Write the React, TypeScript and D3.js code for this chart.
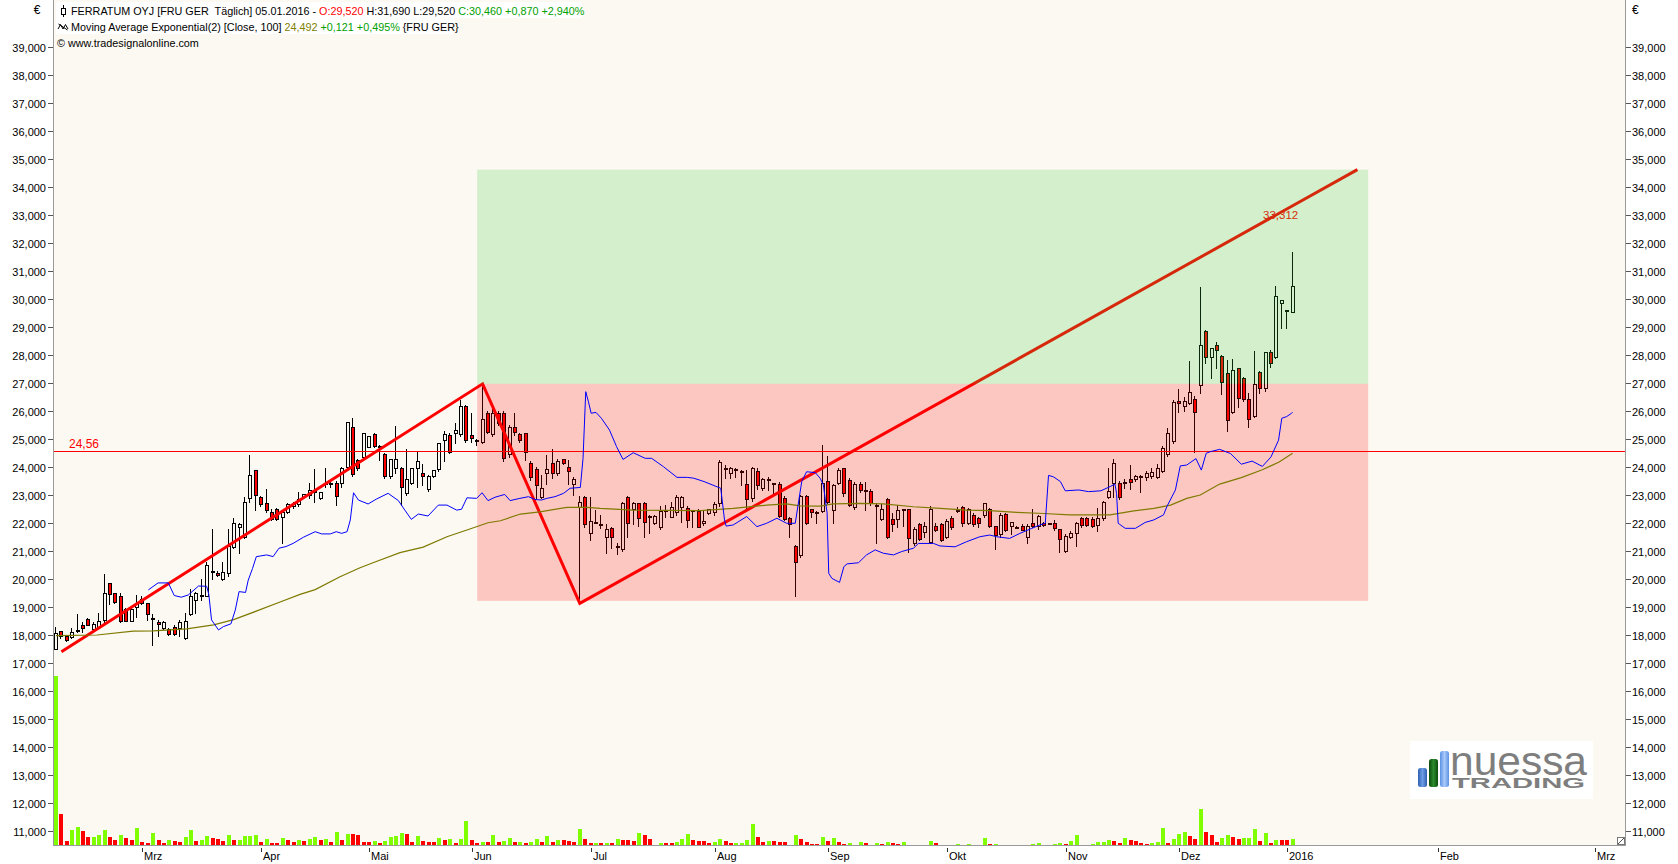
import React from 'react';
import * as d3 from 'd3';

// ---------- DATA ----------
// OHLC per trading day; index 0 = first session (Feb 2015), index 229 = 05.01.2016
const candles: [number, number, number, number][] = [
  [17.49, 18.30, 17.49, 18.08], [18.14, 18.16, 17.90, 17.96], [17.96, 18.00, 17.79, 17.82], [17.92, 18.24, 17.90, 18.11],
  [18.13, 18.75, 18.12, 18.17], [18.36, 18.48, 18.12, 18.26], [18.57, 18.60, 18.36, 18.36], [18.22, 18.45, 18.20, 18.38],
  [18.30, 18.80, 18.28, 18.50], [18.54, 20.18, 18.48, 19.49], [19.85, 19.85, 19.10, 19.45], [19.49, 19.50, 19.15, 19.17],
  [19.39, 19.49, 18.45, 18.50], [18.92, 18.95, 18.50, 18.50], [18.50, 18.95, 18.50, 18.92], [19.01, 19.43, 18.66, 19.15],
  [19.27, 19.40, 19.10, 19.13], [19.13, 19.15, 18.53, 18.74], [18.62, 18.74, 17.64, 18.58], [18.45, 18.53, 17.98, 18.38],
  [18.24, 18.50, 18.22, 18.48], [18.20, 18.24, 18.00, 18.03], [18.27, 18.36, 18.00, 18.03], [18.24, 18.54, 17.95, 18.46],
  [17.88, 18.78, 17.86, 18.50], [18.74, 19.63, 18.70, 19.39], [19.25, 19.52, 18.78, 19.49], [19.40, 19.99, 19.25, 19.42],
  [19.39, 20.60, 19.39, 20.50], [20.24, 21.80, 19.99, 20.28], [20.23, 20.30, 20.10, 20.15], [19.99, 20.60, 19.95, 20.24],
  [20.23, 21.80, 20.10, 21.19], [21.15, 22.19, 21.10, 21.99], [21.87, 22.00, 20.94, 21.97], [21.49, 22.94, 21.45, 22.74],
  [22.88, 24.42, 22.75, 23.70], [23.89, 23.90, 22.46, 23.00], [22.92, 22.95, 22.60, 22.68], [22.70, 23.20, 22.40, 22.46],
  [22.40, 22.50, 22.10, 22.13], [22.50, 22.55, 22.10, 22.13], [22.23, 22.45, 21.27, 22.40], [22.40, 22.70, 22.35, 22.68],
  [22.60, 22.75, 22.55, 22.68], [22.68, 23.12, 22.60, 22.85], [22.94, 23.05, 22.90, 23.02], [23.00, 23.42, 22.90, 23.18],
  [23.10, 23.93, 22.74, 23.14], [22.88, 23.12, 22.85, 23.12], [23.38, 23.98, 23.30, 23.42], [23.40, 23.50, 23.30, 23.42],
  [23.44, 23.50, 22.64, 22.96], [23.44, 24.00, 23.30, 23.95], [23.99, 25.62, 23.95, 25.62], [25.44, 25.74, 23.69, 23.75],
  [24.25, 24.30, 23.90, 23.95], [24.37, 25.23, 24.30, 25.23], [24.73, 25.12, 24.70, 25.11], [25.18, 25.20, 24.70, 24.76],
  [24.76, 24.80, 24.25, 24.75], [24.46, 24.50, 23.60, 23.69], [23.69, 24.30, 23.60, 24.29], [23.95, 25.46, 23.77, 24.29],
  [23.95, 24.00, 22.64, 23.27], [23.06, 24.63, 23.00, 23.57], [23.44, 23.98, 23.40, 23.95], [23.95, 24.57, 23.30, 24.20],
  [23.77, 24.10, 23.35, 23.69], [23.20, 23.70, 23.15, 23.69], [23.69, 23.90, 23.65, 23.89], [23.92, 24.85, 23.85, 24.85],
  [24.97, 25.30, 24.20, 25.18], [25.14, 25.20, 24.50, 24.55], [25.20, 25.58, 24.85, 25.32], [25.18, 26.40, 25.10, 26.18],
  [26.18, 26.20, 24.90, 24.96], [25.14, 25.94, 24.90, 25.05], [24.96, 25.00, 24.80, 24.96], [24.90, 26.97, 24.85, 25.71],
  [25.94, 26.00, 25.20, 25.26], [25.17, 26.10, 25.10, 25.94], [25.94, 26.00, 25.50, 25.56], [25.94, 26.00, 24.20, 24.31],
  [24.46, 25.50, 24.35, 25.42], [25.44, 25.94, 25.15, 25.26], [25.17, 25.20, 24.90, 24.96], [25.20, 25.20, 24.25, 24.55],
  [24.15, 24.20, 23.55, 23.65], [23.94, 24.00, 22.90, 23.36], [22.94, 23.70, 22.90, 23.24], [23.80, 24.43, 23.40, 23.93],
  [24.13, 24.63, 23.60, 23.77], [23.77, 24.30, 23.70, 24.21], [24.27, 24.30, 24.10, 24.15], [24.01, 24.25, 23.40, 23.87],
  [23.38, 23.65, 22.99, 23.58], [22.56, 22.96, 19.13, 22.76], [22.94, 22.96, 21.87, 21.96], [21.63, 22.94, 21.39, 22.08],
  [22.02, 22.48, 21.99, 22.01], [21.96, 22.28, 21.81, 21.97], [21.49, 21.95, 20.92, 21.77], [21.81, 21.85, 21.10, 21.49],
  [21.18, 21.27, 20.90, 21.13], [21.07, 22.75, 21.00, 22.70], [22.94, 22.96, 21.50, 21.99], [22.50, 22.76, 21.98, 22.70],
  [22.70, 22.72, 21.90, 22.17], [22.70, 22.75, 21.51, 22.05], [22.26, 22.30, 21.63, 22.20], [22.01, 22.30, 21.95, 22.26],
  [21.87, 22.60, 21.80, 22.43], [22.43, 22.64, 22.22, 22.45], [22.23, 22.76, 22.20, 22.58], [22.38, 23.00, 22.30, 22.94],
  [22.58, 22.96, 22.05, 22.94], [22.52, 22.60, 21.87, 22.11], [22.42, 22.48, 21.87, 22.48], [22.43, 22.50, 21.85, 21.87],
  [21.99, 22.46, 21.93, 22.07], [22.37, 22.50, 22.32, 22.49], [22.38, 22.75, 22.30, 22.67], [22.70, 24.25, 22.60, 24.19],
  [23.95, 24.07, 23.60, 23.94], [23.80, 24.00, 23.60, 23.95], [23.93, 23.95, 23.65, 23.92], [23.87, 23.90, 23.35, 23.86],
  [23.38, 23.90, 22.50, 22.84], [22.88, 24.00, 22.80, 23.95], [23.87, 23.95, 23.20, 23.36], [23.24, 23.60, 23.18, 23.57],
  [23.57, 23.63, 23.18, 23.57], [23.44, 23.44, 22.97, 23.38], [23.38, 23.45, 22.20, 22.25], [22.90, 22.95, 22.10, 22.14],
  [22.17, 22.20, 21.49, 21.95], [21.18, 21.20, 19.39, 20.62], [20.86, 23.00, 20.80, 22.96], [22.96, 23.00, 21.95, 22.01],
  [22.49, 22.49, 22.23, 22.40], [22.40, 22.42, 22.01, 22.39], [22.44, 24.79, 22.40, 23.44], [23.50, 24.39, 22.70, 22.76],
  [22.46, 23.40, 21.99, 23.36], [23.44, 23.95, 23.40, 23.89], [23.95, 23.97, 22.95, 23.06], [23.54, 23.60, 22.60, 22.64],
  [22.56, 23.48, 22.50, 23.38], [23.38, 23.48, 23.10, 23.18], [23.18, 23.48, 22.46, 23.17], [23.14, 23.20, 22.65, 22.70],
  [22.66, 22.70, 21.30, 22.66], [22.14, 22.67, 22.10, 22.49], [22.85, 22.88, 21.45, 21.49], [22.13, 22.35, 21.73, 21.96],
  [22.14, 22.64, 21.85, 22.46], [22.49, 22.50, 21.89, 22.48], [22.49, 22.50, 20.98, 21.48], [21.27, 21.85, 21.20, 21.77],
  [21.95, 22.00, 21.40, 21.43], [21.69, 22.05, 21.51, 21.89], [21.33, 22.60, 21.30, 22.49], [21.89, 22.00, 21.70, 21.75],
  [21.95, 22.00, 21.35, 21.39], [21.49, 22.15, 21.45, 22.07], [22.17, 22.25, 21.80, 21.87], [22.46, 22.58, 22.40, 22.46],
  [22.56, 22.60, 21.90, 21.99], [21.99, 22.55, 21.95, 22.49], [22.29, 22.35, 21.90, 21.96], [22.19, 22.20, 21.85, 21.99],
  [22.28, 22.73, 22.20, 22.70], [22.49, 22.55, 21.85, 21.89], [21.89, 21.90, 21.06, 21.57], [21.59, 22.35, 21.50, 22.28],
  [22.32, 22.35, 21.70, 21.75], [21.89, 22.00, 21.60, 22.02], [21.87, 21.90, 21.85, 21.87], [21.89, 21.95, 21.75, 21.75],
  [21.51, 21.95, 21.30, 21.89], [22.01, 22.49, 21.85, 21.89], [21.89, 22.30, 21.80, 22.25], [21.99, 22.05, 21.90, 21.93],
  [21.99, 22.00, 21.95, 21.98], [21.99, 22.10, 21.75, 21.81], [21.77, 21.80, 20.98, 21.42], [21.00, 21.60, 20.95, 21.55],
  [21.49, 21.70, 21.45, 21.65], [21.65, 22.05, 21.18, 21.99], [22.17, 22.20, 21.85, 21.93], [22.17, 22.20, 21.88, 21.93],
  [22.15, 22.20, 21.85, 21.91], [21.93, 22.52, 21.73, 22.17], [22.17, 22.80, 22.10, 22.76], [22.94, 23.95, 22.90, 23.14],
  [23.44, 24.27, 22.94, 24.15], [23.44, 23.50, 22.85, 22.92], [23.45, 23.57, 23.24, 23.45], [23.56, 24.07, 23.20, 23.48],
  [23.56, 23.72, 23.50, 23.69], [23.69, 23.72, 23.10, 23.63], [23.63, 23.85, 23.55, 23.80], [23.68, 23.95, 23.60, 23.81],
  [23.63, 24.10, 23.60, 23.95], [23.87, 24.75, 23.81, 24.67], [24.45, 25.38, 24.40, 25.20], [24.93, 26.40, 24.85, 26.33],
  [26.35, 26.78, 25.98, 26.27], [26.18, 26.50, 26.00, 26.35], [26.30, 27.80, 26.25, 26.69], [26.42, 26.52, 24.55, 25.97],
  [26.93, 30.44, 26.63, 28.36], [28.86, 28.90, 27.73, 27.94], [27.94, 28.26, 27.17, 28.24], [28.36, 28.47, 27.55, 28.18],
  [27.96, 28.00, 26.60, 27.05], [27.34, 27.82, 25.30, 25.68], [25.98, 27.84, 25.92, 27.46], [27.52, 27.55, 26.15, 26.45],
  [27.17, 27.20, 26.35, 26.42], [26.42, 26.63, 25.44, 25.70], [25.83, 28.14, 25.80, 26.96], [27.40, 27.42, 26.65, 26.81],
  [26.81, 28.12, 26.72, 28.10], [28.10, 28.18, 27.58, 27.73], [27.94, 30.46, 27.90, 30.11], [29.84, 29.98, 28.95, 29.96],
  [29.59, 29.61, 28.95, 29.59], [29.52, 31.69, 29.52, 30.46],
];

// volume per session (shares)
const volumes: number[] = [
  169000, 30700, 3700, 14700, 17700, 13700, 7700, 7700, 9700, 14700,
  7700, 4700, 9700, 6700, 4700, 16700, 2700, 1700, 11700, 4700,
  1700, 4700, 3700, 2700, 7700, 14700, 3700, 4700, 8700, 6700,
  5700, 3700, 9700, 4700, 4700, 8700, 8700, 9700, 2700, 5700,
  1700, 1700, 6700, 4700, 2700, 4700, 3700, 5700, 7700, 4700,
  5700, 2700, 12700, 4700, 10700, 10700, 9700, 2700, 2700, 3700,
  1700, 3700, 7700, 8700, 11700, 10700, 2700, 8700, 3700, 2700,
  2700, 6700, 4700, 5700, 1700, 5700, 23700, 4700, 1700, 2700,
  2700, 9700, 2700, 3700, 6700, 2700, 2700, 1700, 2700, 5700,
  2700, 8700, 2700, 4700, 4700, 3700, 2700, 15700, 5700, 1700,
  1700, 1700, 1700, 1700, 5700, 4700, 4700, 3700, 11700, 9700,
  5700, 0, 1700, 1700, 1700, 2700, 5700, 10700, 4700, 3700,
  3700, 1700, 2700, 5700, 3700, 1700, 1700, 1700, 4700, 20700,
  7700, 2700, 3700, 3700, 2700, 2700, 0,
  10000, 6000, 3000, 1000, 1000, 8000, 4000, 7000, 3000, 1000,
  2000, 0, 3000, 2000, 0, 2000, 1000, 3000, 2000, 1000,
  3000, 0, 0, 0, 0, 4000, 2000, 0, 0, 0,
  1000, 0, 1000, 0, 0, 7000, 1000, 1000, 0, 0,
  0, 0, 0, 0, 1000, 2000, 0, 0, 1000, 2000,
  1000, 4000, 10000, 0, 0, 1000, 3000, 3000, 5000, 4000,
  2000, 7000, 5000, 4000, 2000, 1000, 2000, 3000, 17000, 2000,
  6000, 11000, 13000, 9000, 6000, 36000, 13000, 10000, 3000, 7000,
  10000, 8000, 6000, 7000, 7000, 16000, 4000, 12000, 2000, 5000,
  5000, 5000, 6000,
];
// G = green (up) volume bar, R = red (down)
const volumeColors: string = (
  'GRRGGRRGGG' + 'RRGRRGRRGR' + 'RGRRGGRGGR' + 'RRGRGGGGRG' + 'RRGRRGRGGR' + 'GRGRGRRRRG' +
  'RGGGGRRGRR' + 'RGRGRGGRRG' + 'RGRGGRGRGG' + 'RGRGRRRGRR' + 'GRGRGRRRGR' + 'R-GRRGGGRR' +
  'RRGGRRGGGG' + 'RRGRRR-' +
  'GRRRRGRGRR' + 'G-GR-GRGRR' + 'G----GR---' + 'G-G--GRG--' + '----GG--GG' + 'RGG--GGGGR' +
  'RGRRRRGGGR' + 'GGGRRGRRRG' + 'GRRGGGRGRG' + 'RRG'
);

// blue line, traced vertices [session index, price]
const blueLine: [number, number][] = [
  [17.1, 19.61], [18.9, 19.86], [20.8, 19.86], [21.9, 19.41], [23.2, 19.35], [24.5, 19.43], [26.4, 19.75], [27.9, 19.74],
  [28.3, 19.45], [28.8, 18.54], [30.1, 18.18], [31.0, 18.30], [32.4, 18.40], [33.2, 18.89], [33.9, 19.55], [35.1, 19.52],
  [35.6, 19.96], [36.4, 20.38], [37.1, 20.80], [37.8, 20.82], [39.0, 20.86], [40.2, 20.80], [41.3, 21.10], [42.6, 21.16],
  [43.9, 21.27], [45.8, 21.49], [48.0, 21.69], [49.2, 21.61], [50.8, 21.61], [51.9, 21.69], [52.9, 21.63], [53.9, 21.69],
  [54.5, 22.11], [55.1, 23.08], [56.0, 22.82], [57.8, 22.68], [59.3, 22.85], [61.5, 23.06], [63.4, 22.80], [64.6, 22.46],
  [65.8, 22.13], [67.1, 22.32], [68.9, 22.25], [70.8, 22.64], [72.4, 22.64], [74.2, 22.46], [75.1, 22.49], [76.1, 22.90],
  [77.9, 22.88], [78.9, 23.08], [80.0, 22.80], [81.3, 22.92], [83.1, 23.02], [84.1, 22.80], [85.9, 22.88], [87.5, 22.94],
  [88.7, 22.84], [89.9, 22.82], [90.9, 22.88], [92.4, 22.94], [94.0, 23.06], [95.2, 23.24], [97.1, 23.27], [97.6, 24.31],
  [98.1, 26.69], [98.6, 26.33], [99.1, 25.92], [100.0, 25.95], [101.0, 25.74], [102.5, 25.32], [103.8, 24.73], [105.0, 24.27],
  [106.9, 24.51], [109.1, 24.31], [110.3, 24.31], [112.5, 24.01], [115.0, 23.63], [116.9, 23.63], [118.1, 23.60], [120.0, 23.48],
  [123.1, 23.24], [123.8, 22.11], [124.1, 21.89], [125.4, 21.93], [127.9, 22.23], [129.8, 21.87], [131.6, 21.99], [133.5, 22.17],
  [135.3, 21.99], [136.9, 21.99], [138.1, 23.48], [139.0, 23.83], [140.6, 23.80], [141.5, 23.60], [142.1, 23.36], [142.8, 22.35],
  [143.1, 20.20], [143.7, 20.02], [145.1, 19.88], [145.9, 20.44], [146.5, 20.54], [148.6, 20.58], [150.1, 20.86], [151.7, 21.04],
  [153.2, 20.92], [155.1, 20.86], [156.6, 20.98], [158.8, 21.10], [159.7, 21.27], [162.5, 21.27], [163.7, 21.18], [166.5, 21.15],
  [168.6, 21.33], [171.1, 21.51], [172.9, 21.57], [174.2, 21.51], [176.6, 21.45], [178.5, 21.63], [180.6, 21.80], [182.2, 21.93],
  [183.2, 21.99], [183.8, 23.70], [184.7, 23.65], [186.0, 23.48], [186.9, 23.15], [189.4, 23.18], [191.2, 23.12], [193.5, 23.15],
  [195.2, 23.30], [196.1, 23.39], [196.4, 23.06], [196.7, 21.99], [198.0, 21.81], [199.9, 21.81], [201.7, 22.02], [203.3, 22.11],
  [205.1, 22.29], [205.7, 22.58], [207.3, 23.18], [208.2, 24.04], [209.4, 24.07], [211.1, 24.30], [212.1, 23.89], [213.0, 24.49],
  [213.8, 24.55], [215.5, 24.63], [217.5, 24.48], [219.5, 24.10], [221.5, 24.21], [223.4, 24.02], [225.0, 24.36], [226.4, 24.96],
  [227.0, 25.74], [227.9, 25.80], [228.8, 25.92], [229.0, 25.95],
];

// Moving Average Exponential [Close, 100], traced vertices
const emaLine: [number, number][] = [
  [0, 17.98], [7.6, 18.00], [14.3, 18.14], [18.0, 18.15], [24.2, 18.22], [29.2, 18.36], [32.9, 18.55], [37.2, 18.86],
  [41.5, 19.18], [45.2, 19.45], [48.0, 19.62], [52.6, 20.08], [56.3, 20.40], [58.7, 20.58], [63.7, 20.94], [68.0, 21.14],
  [72.4, 21.51], [76.1, 21.75], [80.0, 22.01], [82.3, 22.08], [86.0, 22.32], [89.6, 22.40], [94.6, 22.56], [98.3, 22.56],
  [100.8, 22.52], [106.9, 22.46], [113.1, 22.45], [119.3, 22.44], [125.4, 22.52], [131.6, 22.64], [135.3, 22.68], [137.8, 22.61],
  [141.5, 22.60], [143.9, 22.68], [149.0, 22.70], [153.2, 22.68], [158.8, 22.58], [163.7, 22.52], [168.6, 22.46], [172.9, 22.44],
  [177.9, 22.38], [182.9, 22.34], [187.7, 22.29], [195.2, 22.29], [199.6, 22.43], [203.3, 22.52], [206.4, 22.64], [209.4, 22.88],
  [211.9, 23.00], [215.5, 23.39], [219.5, 23.62], [223.4, 23.90], [226.5, 24.18], [229.0, 24.49],
];
const emaLast = 24.492;
const emaChange = 0.121;
const emaChangePct = 0.495;

// drawing tools
const zigzag: [number, number][] = [[1, 17.40], [79, 26.97], [97, 19.13], [241, 34.62]];
const horizontalLevel = 24.56;
const trendLabelValue = 33.312;
const boxStart = 78;
const boxEnd = 243;
const boxTarget = 34.62;
const boxEntry = 26.97;
const boxStop = 19.22;

// axis tick labels
const monthTicks: { label: string; i: number }[] = [
  { label: 'Mrz', i: 16 }, { label: 'Apr', i: 38 }, { label: 'Mai', i: 58 }, { label: 'Jun', i: 77 },
  { label: 'Jul', i: 99 }, { label: 'Aug', i: 122 }, { label: 'Sep', i: 143 }, { label: 'Okt', i: 165 },
  { label: 'Nov', i: 187 }, { label: 'Dez', i: 208 }, { label: '2016', i: 228 }, { label: 'Feb', i: 256 },
  { label: 'Mrz', i: 285 },
];
const priceTicks: number[] = [11, 12, 13, 14, 15, 16, 17, 18, 19, 20, 21, 22, 23, 24, 25, 26, 27, 28, 29, 30, 31, 32, 33, 34, 35, 36, 37, 38, 39];

// ---------- CHART ----------
const FONT = '"Liberation Sans", Arial, sans-serif';
const BG = '#FCF9F2';

export default function App() {
  const W = 1678;
  const H = 864;
  const plotL = 53;
  const plotR = 1625;
  const plotB = 845;

  const x = d3.scaleLinear().domain([0, 229]).range([56, 56 + 229 * 5.4]);
  const y = d3.scaleLinear().domain([11, 39]).range([831, 47]);
  const yv = d3.scaleLinear().domain([0, 169000]).range([plotB, 676]);
  const fmt3 = (v: number) => v.toFixed(3).replace('.', ',');
  const fmt2 = (v: number) => v.toFixed(2).replace('.', ',');
  const line = d3.line<[number, number]>().x((d) => x(d[0])).y((d) => y(d[1]));

  const last = candles[candles.length - 1];
  const prevClose = candles[candles.length - 2][3];
  const chg = last[3] - prevClose;
  const chgPct = (chg / prevClose) * 100;
  const sign = (v: number) => (v >= 0 ? '+' : '');

  const lastIdx = candles.length - 1;

  return (
    <svg width={W} height={H} style={{ position: 'absolute', left: 0, top: 0, display: 'block', background: '#fff' }} fontFamily={FONT}>
      <rect x={0} y={0} width={W} height={H} fill="#ffffff" />
      <rect x={plotL} y={0} width={plotR - plotL} height={plotB} fill={BG} />

      {/* volume */}
      <g>
        {volumes.map((v, i) => {
          if (v <= 0) return null;
          const left = Math.round(x(i) - 2);
          const top = Math.round(yv(v));
          return (
            <rect key={i} x={left} y={top} width={4} height={plotB - top}
              fill={volumeColors[i] === 'R' ? '#FF0000' : '#7FFF00'} />
          );
        })}
      </g>

      {/* candles */}
      <g>
        {candles.map(([o, h, l, c], i) => {
          const left = Math.round(x(i) - 2);
          const top = Math.round(y(Math.max(o, c)));
          const bot = Math.round(y(Math.min(o, c)));
          const up = c >= o;
          return (
            <g key={i}>
              <line x1={left + 1.5} x2={left + 1.5} y1={Math.round(y(h))} y2={Math.round(y(l)) + 1} stroke="#000" strokeWidth={1} />
              <rect x={left + 0.5} y={top + 0.5} width={3} height={Math.max(bot - top, 1)}
                fill={up ? BG : '#FF0000'} stroke="#000" strokeWidth={1} />
            </g>
          );
        })}
      </g>

      {/* horizontal level */}
      <line x1={plotL} x2={plotR} y1={Math.round(y(horizontalLevel)) + 0.5} y2={Math.round(y(horizontalLevel)) + 0.5} stroke="#FF0000" strokeWidth={1} />
      <text x={69} y={Math.round(y(horizontalLevel)) - 3} fontSize={12} fill="#FF0000">{fmt2(horizontalLevel)}</text>

      {/* zigzag */}
      <path d={line(zigzag) || ''} fill="none" stroke="#FF0000" strokeWidth={3} strokeLinejoin="miter" />
      <text x={x(lastIdx) - 12} y={y(trendLabelValue) + 13} fontSize={11.5} fill="#FF0000" textAnchor="middle">{fmt3(trendLabelValue)}</text>

      {/* risk/reward boxes (translucent overlay) */}
      <rect x={x(boxStart)} y={y(boxTarget)} width={x(boxEnd) - x(boxStart)} height={y(boxEntry) - y(boxTarget)} fill="rgb(50,200,50)" fillOpacity={0.2} />
      <rect x={x(boxStart)} y={y(boxEntry)} width={x(boxEnd) - x(boxStart)} height={y(boxStop) - y(boxEntry)} fill="rgb(255,0,0)" fillOpacity={0.2} />

      {/* indicator lines */}
      <path d={line(emaLine) || ''} fill="none" stroke="#7F7A00" strokeWidth={1.2} />
      <path d={line(blueLine) || ''} fill="none" stroke="#0000FF" strokeWidth={1} />

      {/* axes */}
      <line x1={plotL + 0.5} x2={plotL + 0.5} y1={0} y2={plotB} stroke="#9A9A9A" />
      <line x1={plotR + 0.5} x2={plotR + 0.5} y1={0} y2={plotB + 1} stroke="#9A9A9A" />
      <line x1={plotL} x2={plotR + 1} y1={plotB + 0.5} y2={plotB + 0.5} stroke="#9A9A9A" />

      {priceTicks.map((v) => {
        const yy = Math.round(y(v)) + 0.5;
        return (
          <g key={v}>
            <line x1={48} x2={53} y1={yy} y2={yy} stroke="#555" />
            <text x={46} y={yy + 4} fontSize={11} textAnchor="end" fill="#000">{fmt3(v)}</text>
            <line x1={1626} x2={1631} y1={yy} y2={yy} stroke="#555" />
            <text x={1632} y={yy + 4} fontSize={11} fill="#000">{fmt3(v)}</text>
          </g>
        );
      })}
      <text x={37} y={14} fontSize={12} textAnchor="middle">€</text>
      <text x={1632} y={14} fontSize={12}>€</text>

      {monthTicks.map((t, k) => {
        const xx = Math.round(x(t.i)) + 0.5;
        return (
          <g key={k}>
            <line x1={xx} x2={xx} y1={848} y2={852} stroke="#333" />
            <text x={xx + 1.5} y={860} fontSize={11} fill="#000">{t.label}</text>
          </g>
        );
      })}

      {/* resize grip */}
      <rect x={1617.5} y={837.5} width={7} height={7} fill="#fff" stroke="#777" />
      <line x1={1618} x2={1624} y1={844} y2={838} stroke="#555" />

      {/* header */}
      <rect x={56} y={2} width={526} height={16} fill="#fff" />
      <rect x={56} y={18} width={398} height={16} fill="#fff" />
      <g>
        <line x1={63.5} x2={63.5} y1={5} y2={17} stroke="#000" />
        <rect x={61.5} y={8.5} width={4} height={6} fill="#fff" stroke="#000" />
      </g>
      <text x={71} y={15} fontSize={10.8} style={{ whiteSpace: 'pre' }}>
        <tspan fill="#000">{'FERRATUM OYJ [FRU GER  Täglich] 05.01.2016 - '}</tspan>
        <tspan fill="#FF0000">{'O:' + fmt3(last[0])}</tspan>
        <tspan fill="#000">{' H:' + fmt3(last[1]) + ' L:' + fmt3(last[2]) + ' '}</tspan>
        <tspan fill="#00A000">{'C:' + fmt3(last[3]) + ' ' + sign(chg) + fmt3(chg) + ' ' + sign(chgPct) + fmt3(chgPct) + '%'}</tspan>
      </text>
      <path d="M58,29 L60.5,24.5 L63,29 L65.5,24.5 L68,29 M58.5,24 L67.5,30" fill="none" stroke="#000" strokeWidth={1} />
      <text x={71} y={31} fontSize={10.8} style={{ whiteSpace: 'pre' }}>
        <tspan fill="#000">{'Moving Average Exponential(2) [Close, 100] '}</tspan>
        <tspan fill="#808000">{fmt3(emaLast)}</tspan>
        <tspan fill="#00A000">{' ' + sign(emaChange) + fmt3(emaChange) + ' ' + sign(emaChangePct) + fmt3(emaChangePct) + '%'}</tspan>
        <tspan fill="#000">{' {FRU GER}'}</tspan>
      </text>
      <text x={57} y={47} fontSize={10.8} fill="#000">© www.tradesignalonline.com</text>

      {/* logo */}
      <g>
        <rect x={1410} y={741} width={183} height={58} fill="#ffffff" />
        <defs>
          <linearGradient id="b1" x1="0" x2="1" y1="0" y2="0">
            <stop offset="0" stopColor="#2F5FB0" /><stop offset="0.5" stopColor="#6E9DE6" /><stop offset="1" stopColor="#2F5FB0" />
          </linearGradient>
          <linearGradient id="b2" x1="0" x2="1" y1="0" y2="0">
            <stop offset="0" stopColor="#0C4D0C" /><stop offset="0.5" stopColor="#2C8A2C" /><stop offset="1" stopColor="#0C4D0C" />
          </linearGradient>
          <linearGradient id="b3" x1="0" x2="1" y1="0" y2="0">
            <stop offset="0" stopColor="#5B92E5" /><stop offset="0.5" stopColor="#A9C9F8" /><stop offset="1" stopColor="#5B92E5" />
          </linearGradient>
        </defs>
        <rect x={1418} y={768} width={9} height={19} rx={2.5} fill="url(#b1)" />
        <rect x={1429} y={759} width={9} height={28} rx={2.5} fill="url(#b2)" />
        <rect x={1440} y={751} width={9} height={36} rx={2.5} fill="url(#b3)" />
        <text fill="#7E7E7E">
          <tspan x={1450} y={775} fontSize={40} textLength={137} lengthAdjust="spacingAndGlyphs">nuessa</tspan>
          <tspan x={1452} y={788} fontSize={14} fontWeight="bold" textLength={133} lengthAdjust="spacingAndGlyphs">TRADING</tspan>
        </text>
      </g>
    </svg>
  );
}
